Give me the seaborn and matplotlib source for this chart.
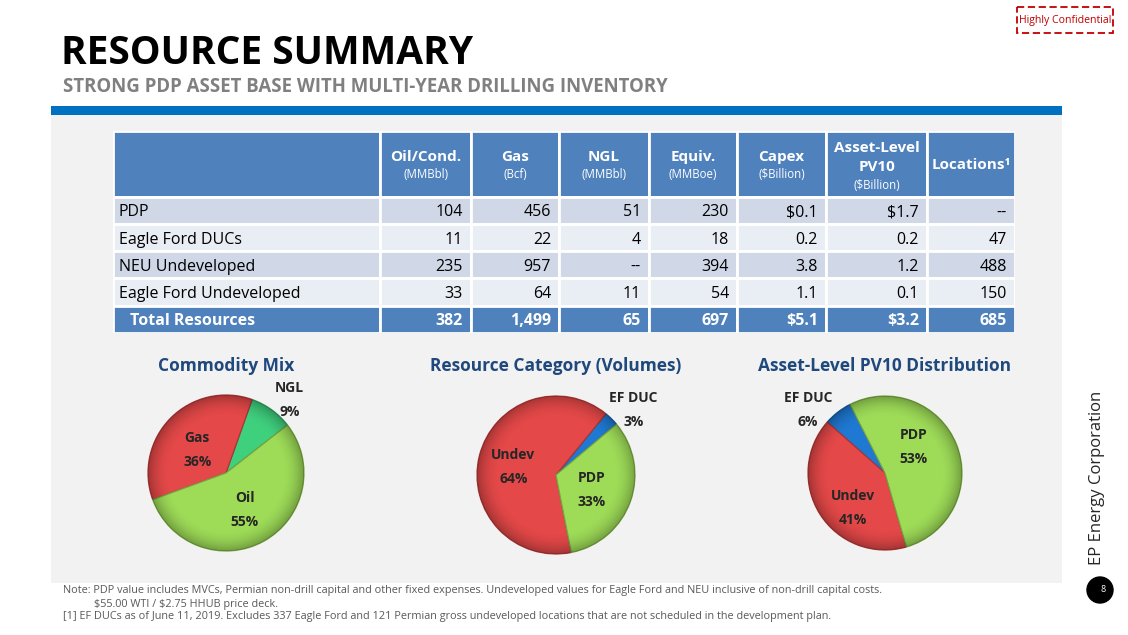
import matplotlib
matplotlib.use("Agg")
import matplotlib.pyplot as plt
from matplotlib.patches import Rectangle, Circle
import matplotlib.colors as mcolors
import numpy as np
import seaborn as sns

# ---- table values ----
row_names = ["PDP", "Eagle Ford DUCs", "NEU Undeveloped", "Eagle Ford Undeveloped"]
oil_mmbbl = [104, 11, 235, 33]
gas_bcf = [456, 22, 957, 64]
ngl_mmbbl = [51, 4, None, 11]
equiv_mmboe = [230, 18, 394, 54]
capex_bn = [0.1, 0.2, 3.8, 1.1]
pv10_bn = [1.7, 0.2, 1.2, 0.1]
locations = [None, 47, 488, 150]
total_label = "Total Resources"
totals = [382, 1499, 65, 697, 5.1, 3.2, 685]

col_heads = ["Oil/Cond.", "Gas", "NGL", "Equiv.", "Capex", "Asset-Level\nPV10", "Locations¹"]
col_units = ["(MMBbl)", "(Bcf)", "(MMBbl)", "(MMBoe)", "(\\$Billion)", "(\\$Billion)", ""]

# ---- pie values ----
commodity_labels = ["NGL", "Gas", "Oil"]
commodity_pct = [9, 36, 55]
category_labels = ["EF DUC", "Undev", "PDP"]
category_pct = [3, 64, 33]
pv10_labels = ["EF DUC", "Undev", "PDP"]
pv10_pct = [6, 41, 53]

sns.set_style("white")
plt.rcParams["font.family"] = ["Open Sans", "DejaVu Sans"]

W, H = 1128, 635
fig = plt.figure(figsize=(W / 100, H / 100), dpi=100)
fig.patch.set_facecolor("white")

# background / page furniture in pixel coords
bg = fig.add_axes([0, 0, 1, 1])
bg.set_xlim(0, W)
bg.set_ylim(H, 0)
bg.axis("off")
bg.add_patch(Rectangle((51, 115), 1011, 468, facecolor="#f2f2f2", edgecolor="none"))
bg.add_patch(Rectangle((51, 106), 1011, 9, facecolor="#0070c0", edgecolor="none"))
bg.text(61, 64, "RESOURCE SUMMARY", fontsize=28, fontweight="bold", color="black", va="baseline")
bg.text(63, 92, "STRONG PDP ASSET BASE WITH MULTI-YEAR DRILLING INVENTORY", fontsize=13.4,
        fontweight="bold", color="#808080", va="baseline")
bg.add_patch(Rectangle((1017, 7), 96, 26, facecolor="none", edgecolor="#c00000", lw=1.3, ls=(0, (4, 2))))
bg.text(1065, 20, "Highly Confidential", fontsize=7.6, color="#c00000", ha="center", va="center")
bg.text(1097, 478, "EP Energy Corporation", fontsize=12, rotation=90, ha="center", va="center")
bg.add_patch(Circle((1100, 590), 13, color="black"))
bg.text(1103, 590, "8", fontsize=6.5, color="white", ha="center", va="center")

notes = ["Note: PDP value includes MVCs, Permian non-drill capital and other fixed expenses. "
         "Undeveloped values for Eagle Ford and NEU inclusive of non-drill capital costs.",
         "\\$55.00 WTI / \\$2.75 HHUB price deck.",
         "[1] EF DUCs as of June 11, 2019. Excludes 337 Eagle Ford and 121 Permian gross undeveloped "
         "locations that are not scheduled in the development plan."]
bg.text(63, 591, notes[0], fontsize=7.85, color="#595959", va="center")
bg.text(94, 604, notes[1], fontsize=7.85, color="#595959", va="center")
bg.text(63, 617, notes[2], fontsize=7.85, color="#595959", va="center")

# ---- table ----
col_w = [267, 91, 88, 90, 88, 89, 101, 88]
edges = np.concatenate([[0], np.cumsum(col_w)])
head_h = 2.4
n_rows = len(row_names) + 1
tab = fig.add_axes([113 / W, 1 - 333 / H, sum(col_w) / W, 202 / H])
tab.set_xlim(0, edges[-1])
tab.set_ylim(head_h + n_rows, 0)
tab.axis("off")

head_blue = "#4f81bd"
row_cols = ["#d0d8e8", "#e9edf4"]


def fmt(v, dollar=False, dec=False):
    if v is None:
        return "--"
    s = f"{v:.1f}" if dec else f"{v:,}"
    return "\\$" + s if dollar else s


body = [
    [fmt(v) for v in oil_mmbbl],
    [fmt(v) for v in gas_bcf],
    [fmt(v) for v in ngl_mmbbl],
    [fmt(v) for v in equiv_mmboe],
    [fmt(v, i == 0, True) for i, v in enumerate(capex_bn)],
    [fmt(v, i == 0, True) for i, v in enumerate(pv10_bn)],
    [fmt(v) for v in locations],
]
tot_txt = [fmt(totals[0]), fmt(totals[1]), fmt(totals[2]), fmt(totals[3]),
           fmt(totals[4], True, True), fmt(totals[5], True, True), fmt(totals[6])]

# header
tab.bar(edges[:-1], head_h, width=col_w, bottom=0, align="edge", color=head_blue,
        edgecolor="white", linewidth=2)
for j, (h, u) in enumerate(zip(col_heads, col_units)):
    xc = (edges[j + 1] + edges[j + 2]) / 2
    if "\n" in h:
        a, b = h.split("\n")
        tab.text(xc, 0.62, a, ha="center", va="center", color="white", fontsize=11, fontweight="bold")
        tab.text(xc, 1.32, b, ha="center", va="center", color="white", fontsize=11, fontweight="bold")
        tab.text(xc, 1.98, u, ha="center", va="center", color="white", fontsize=8.3)
    elif u:
        tab.text(xc, 0.95, h, ha="center", va="center", color="white", fontsize=11, fontweight="bold")
        tab.text(xc, 1.60, u, ha="center", va="center", color="white", fontsize=8.3)
    else:
        tab.text(xc, 1.25, h, ha="center", va="center", color="white", fontsize=11, fontweight="bold")

# body rows
for i, name in enumerate(row_names):
    top = head_h + i
    tab.bar(edges[:-1], 1, width=col_w, bottom=top, align="edge", color=row_cols[i % 2],
            edgecolor="white", linewidth=2)
    tab.text(6, top + 0.58, name, ha="left", va="center", fontsize=11.5, color="black")
    for j in range(len(body)):
        tab.text(edges[j + 2] - 8, top + 0.58, body[j][i], ha="right", va="center",
                 fontsize=11.5, color="black")

# total row
top = head_h + len(row_names)
tab.bar(edges[:-1], 1, width=col_w, bottom=top, align="edge", color=head_blue,
        edgecolor="white", linewidth=2)
tab.text(17, top + 0.55, total_label, ha="left", va="center", fontsize=11.5,
         color="white", fontweight="bold")
for j, t in enumerate(tot_txt):
    tab.text(edges[j + 2] - 8, top + 0.55, t, ha="right", va="center", fontsize=11.5,
             color="white", fontweight="bold")

# ---- pies ----
red = "#e44848"
lgreen = "#9edc58"
teal = "#3fd07e"
blue = "#1f78d1"

# rim shading overlay to mimic the bevelled 3D pies
yy, xx = np.mgrid[-1:1:300j, -1:1:300j]
rr = np.hypot(xx, yy)
rim = np.zeros((300, 300, 4))
rim[..., 3] = np.clip((rr - 0.72) / 0.28, 0, 1) ** 2 * 0.28


def darker(c, f=0.7):
    r, g, b = mcolors.to_rgb(c)
    return (r * f, g * f, b * f)


def draw_pie(cx, cy, r, pct, labels, colors, start, lab_pos, title):
    ax = fig.add_axes([(cx - 1.6 * r) / W, 1 - (cy + 1.6 * r) / H, 3.2 * r / W, 3.2 * r / H])
    wedges, _ = ax.pie(pct, colors=colors, startangle=start, counterclock=True,
                       wedgeprops=dict(linewidth=0.9))
    for w, c in zip(wedges, colors):
        w.set_edgecolor(darker(c, 0.75))
    im = ax.imshow(rim, extent=(-1, 1, -1, 1), zorder=3)
    im.set_clip_path(Circle((0, 0), 1, transform=ax.transData))
    ax.set_xlim(-1.6, 1.6)
    ax.set_ylim(-1.6, 1.6)
    ax.axis("off")
    for lab, p, (ang, dist) in zip(labels, pct, lab_pos):
        x = dist * np.cos(np.radians(ang))
        y = dist * np.sin(np.radians(ang))
        ax.text(x, y + 0.155, lab, ha="center", va="center", fontsize=10, fontweight="bold", zorder=5)
        ax.text(x, y - 0.155, f"{p}%", ha="center", va="center", fontsize=10, fontweight="bold", zorder=5)
    bg.text(cx, 366, title, ha="center", va="center", fontsize=12.5, fontweight="bold",
            color="#1f497d")


draw_pie(226, 473, 78, commodity_pct, commodity_labels, [teal, red, lgreen], 38,
         [(49, 1.245), (141.6, 0.47), (297, 0.53)], "Commodity Mix")
draw_pie(556, 475, 79, category_pct, category_labels, [blue, red, lgreen], 40,
         [(40, 1.28), (169.5, 0.55), (337, 0.49)], "Resource Category (Volumes)")
draw_pie(885, 473, 77, pv10_pct, pv10_labels, [blue, red, lgreen], 117,
         [(140.7, 1.29), (227.6, 0.62), (43, 0.5)], "Asset-Level PV10 Distribution")

fig.savefig("out.png", dpi=100)
